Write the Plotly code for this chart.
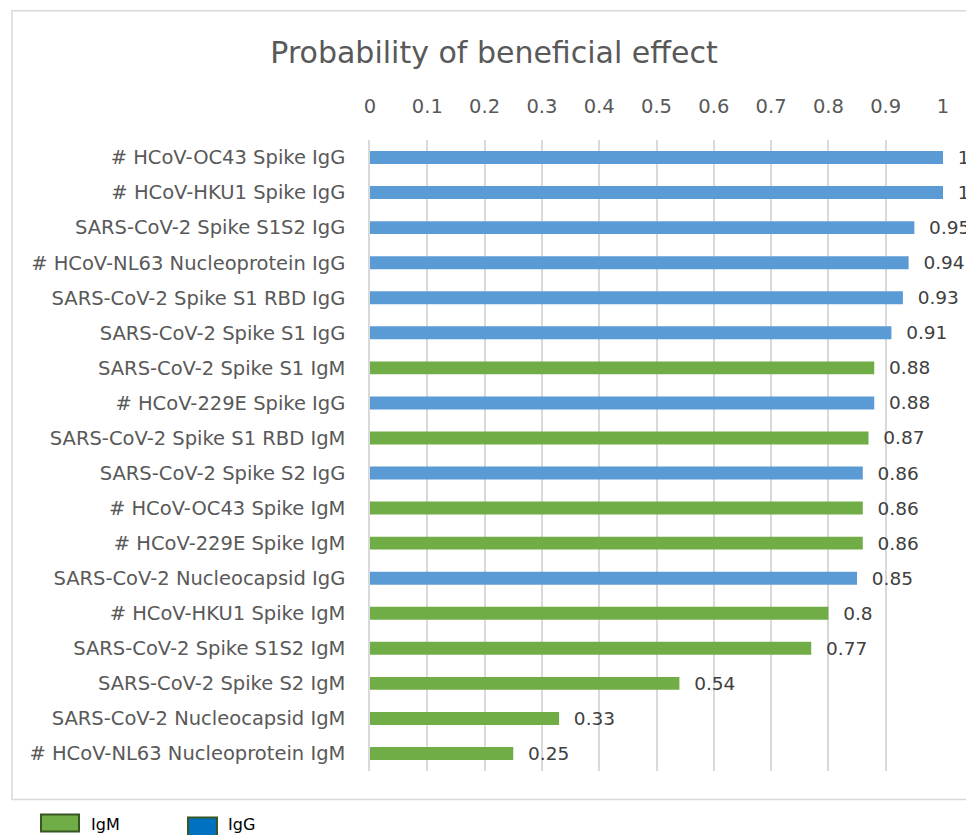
import plotly.graph_objects as go

# rows top to bottom
labels = [
    "# HCoV-OC43 Spike IgG",
    "# HCoV-HKU1 Spike IgG",
    "SARS-CoV-2 Spike S1S2 IgG",
    "# HCoV-NL63 Nucleoprotein IgG",
    "SARS-CoV-2 Spike S1 RBD IgG",
    "SARS-CoV-2 Spike S1 IgG",
    "SARS-CoV-2 Spike S1 IgM",
    "# HCoV-229E Spike IgG",
    "SARS-CoV-2 Spike S1 RBD IgM",
    "SARS-CoV-2 Spike S2 IgG",
    "# HCoV-OC43 Spike IgM",
    "# HCoV-229E Spike IgM",
    "SARS-CoV-2 Nucleocapsid IgG",
    "# HCoV-HKU1 Spike IgM",
    "SARS-CoV-2 Spike S1S2 IgM",
    "SARS-CoV-2 Spike S2 IgM",
    "SARS-CoV-2 Nucleocapsid IgM",
    "# HCoV-NL63 Nucleoprotein IgM",
]
probs = [1, 1, 0.95, 0.94, 0.93, 0.91, 0.88, 0.88, 0.87, 0.86,
         0.86, 0.86, 0.85, 0.8, 0.77, 0.54, 0.33, 0.25]
ticks = [0, 0.1, 0.2, 0.3, 0.4, 0.5, 0.6, 0.7, 0.8, 0.9, 1]
tick_text = ["0", "0.1", "0.2", "0.3", "0.4", "0.5", "0.6", "0.7", "0.8", "0.9", "1"]

GREEN = "#70AD47"
BLUE = "#5B9BD5"
GREY = "#595959"
FONT = "DejaVu Sans"

igm = [(l, v) for l, v in zip(labels, probs) if l.endswith("IgM")]
igg = [(l, v) for l, v in zip(labels, probs) if l.endswith("IgG")]

fig = go.Figure()
for rows, col, name in [(igm, GREEN, "IgM"), (igg, BLUE, "IgG")]:
    fig.add_trace(go.Bar(
        y=[r[0] for r in rows], x=[r[1] for r in rows], orientation="h",
        name=name, marker=dict(color=col, line_width=0), width=0.37,
        text=["\u00a0\u00a0" + f"{r[1]:g}" for r in rows],
        textposition="outside", cliponaxis=False, constraintext="none",
        textfont=dict(family=FONT, size=18.5, color="#404040"), showlegend=False,
    ))

# figure fills the whole window (body margin removed below)
W, H = 966, 835
L, R, T, B = 370, 943, 139.5, 771.5


def px(x):
    return (x - L) / (R - L)


def py(y):
    return (B - y) / (B - T)


shapes = [
    dict(type="rect", xref="paper", yref="paper", x0=px(12), x1=px(990),
         y0=py(800), y1=py(10), line=dict(color="#D9D9D9", width=1.5)),
    dict(type="rect", xref="paper", yref="paper", x0=px(41), x1=px(79),
         y0=py(832), y1=py(815), fillcolor=GREEN,
         line=dict(color="#375623", width=2)),
    dict(type="rect", xref="paper", yref="paper", x0=px(188), x1=px(217),
         y0=py(840), y1=py(818), fillcolor="#0070C0",
         line=dict(color="#375623", width=2)),
]
annotations = [
    dict(xref="paper", yref="paper", x=px(89), y=py(825), text="IgM",
         showarrow=False, xanchor="left", yanchor="middle",
         font=dict(family=FONT, size=16, color="#000000")),
    dict(xref="paper", yref="paper", x=px(226), y=py(825), text="IgG",
         showarrow=False, xanchor="left", yanchor="middle",
         font=dict(family=FONT, size=16, color="#000000")),
]

fig.update_layout(
    width=W, height=H,
    margin=dict(l=L, r=W - R, t=T, b=H - B, pad=0),
    paper_bgcolor="white", plot_bgcolor="white",
    barmode="overlay",
    font=dict(family=FONT, color=GREY),
    title=dict(text="Probability of beneficial effect", x=494 / W,
               xanchor="center", y=1 - 52 / H, yanchor="middle",
               font=dict(family=FONT, size=30, color=GREY)),
    xaxis=dict(side="top", range=[0, 1], tickvals=ticks, ticktext=tick_text,
               showgrid=True, gridcolor="#D9D9D9", gridwidth=1.5,
               zeroline=False, showline=False, ticks="",
               tickfont=dict(size=19.5, color=GREY), ticklabelstandoff=22),
    yaxis=dict(categoryorder="array", categoryarray=labels,
               autorange="reversed", showgrid=False, zeroline=False,
               showline=True, linecolor="#D9D9D9", linewidth=1.5, ticks="",
               tickfont=dict(size=19.5, color=GREY), ticklabelstandoff=19),
    shapes=shapes, annotations=annotations,
)

fig.write_html("out.html", config={"displayModeBar": False},
               post_script="document.body.style.margin='0';"
                           "document.body.style.overflow='hidden';")
